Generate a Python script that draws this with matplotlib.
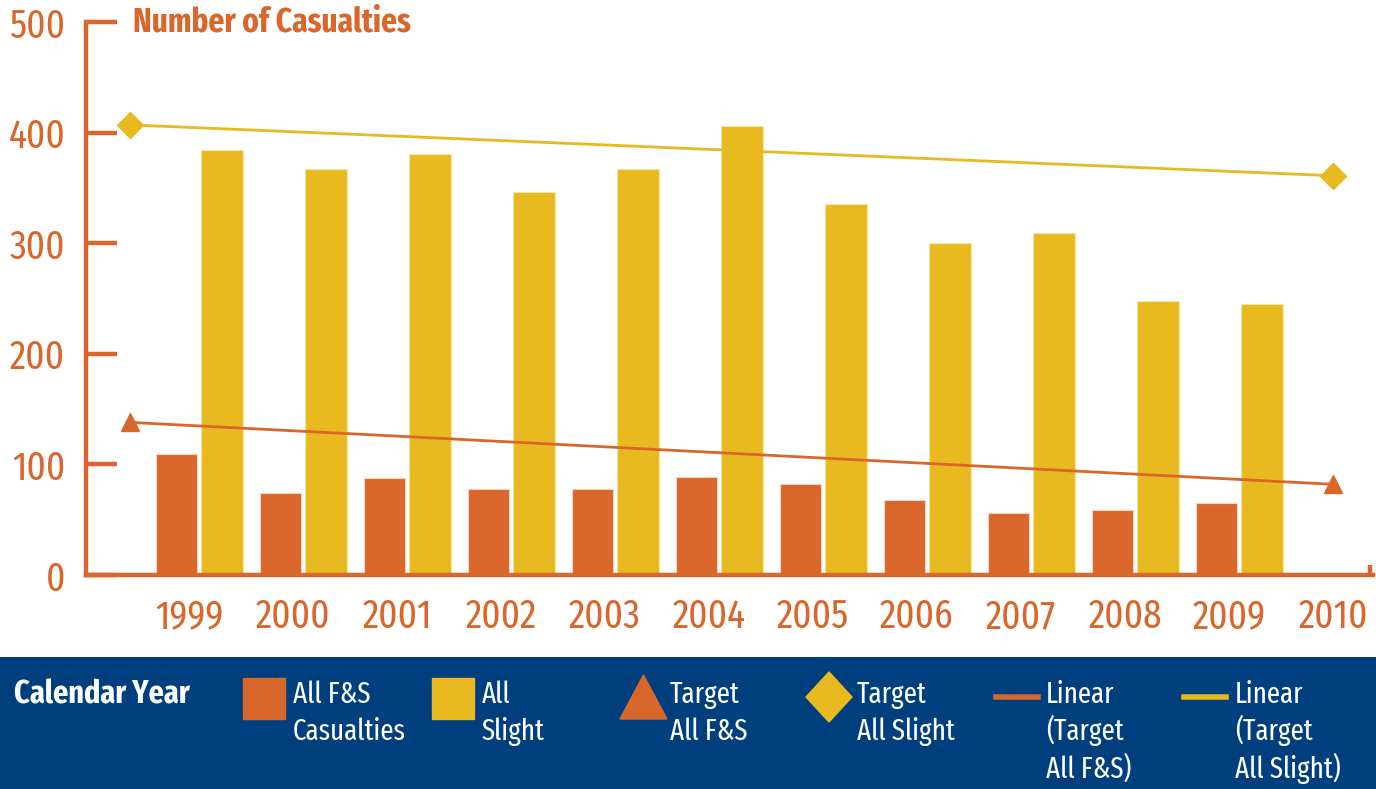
import matplotlib
matplotlib.use('Agg')
import matplotlib.pyplot as plt
from matplotlib.patches import Rectangle, Polygon
from matplotlib.lines import Line2D

ORANGE = '#D9662A'
YELLOW = '#E9B920'
BLUE = '#003F7D'

plt.rcParams['font.family'] = ['Fira Sans Extra Condensed', 'DejaVu Sans']

years = ['1999', '2000', '2001', '2002', '2003', '2004',
         '2005', '2006', '2007', '2008', '2009', '2010']
fs_casualties = [109, 74, 88, 78, 78, 89, 82, 68, 56, 59, 65]
slight = [384, 367, 381, 346, 367, 406, 335, 300, 309, 248, 245]
target_pos = [-0.57, 11.0]
target_fs = [138, 82]
target_slight = [407, 361]

fig = plt.figure(figsize=(13.76, 7.89), dpi=100)
W, H = 1376, 789
ax = fig.add_axes([86 / W, 1 - 575 / H, (1373 - 86) / W, (575 - 22) / H])

idx = list(range(len(fs_casualties)))
bw = 0.40
ax.bar([i - 0.12 for i in idx], fs_casualties, width=bw, color=ORANGE,
       edgecolor='#F3D6C0', linewidth=0.8, zorder=2)
ax.bar([i + 0.315 for i in idx], slight, width=bw, color=YELLOW,
       edgecolor='#F6E6B0', linewidth=0.8, zorder=2)

# targets and their linear trends
ax.plot(target_pos, target_fs, color=ORANGE, lw=2.0, zorder=3)
ax.plot(target_pos, target_slight, color=YELLOW, lw=2.0, zorder=3)
ax.plot(target_pos, target_fs, ls='none', marker='^', ms=13,
        color=ORANGE, zorder=4)
ax.plot(target_pos, target_slight, ls='none', marker='D', ms=13,
        color=YELLOW, zorder=4)

ax.set_xlim(-0.99, 11.385)
ax.set_ylim(0, 500)
ax.set_yticks([0, 100, 200, 300, 400, 500])
ax.set_xticks(range(len(years)))
ax.set_xticklabels(years)
ax.set_xticks([11.36], minor=True)

for s in ['top', 'right']:
    ax.spines[s].set_visible(False)
for s in ['left', 'bottom']:
    ax.spines[s].set_color(ORANGE)
    ax.spines[s].set_linewidth(3.2)

ax.tick_params(axis='y', direction='in', length=22, width=3.2,
               color=ORANGE, labelcolor=ORANGE, labelsize=29, pad=15)
ax.tick_params(axis='x', which='major', length=0, labelcolor=ORANGE,
               labelsize=29, pad=16)
ax.tick_params(axis='x', which='minor', direction='in', length=7,
               width=3.2, color=ORANGE)

fig.text(133 / W, 1 - 32 / H, 'Number of Casualties', color=ORANGE,
         fontsize=24.5, fontweight='bold', va='baseline', ha='left')

# legend panel
lax = fig.add_axes([0, 0, 1, 132 / H])
lax.set_xlim(0, W)
lax.set_ylim(H, H - 132)
lax.set_facecolor(BLUE)
for s in lax.spines.values():
    s.set_visible(False)
lax.set_xticks([])
lax.set_yticks([])


def legend_label(x, label):
    for k, line in enumerate(label.split('\n')):
        lax.text(x, 703 + 37.5 * k, line, color='white', fontsize=21,
                 va='baseline', ha='left')


lax.text(14, 703, 'Calendar Year', color='white', fontsize=23.5,
         fontweight='bold', va='baseline', ha='left')

lax.add_patch(Rectangle((243, 678), 42, 41, color=ORANGE))
legend_label(293, 'All F&S\nCasualties')
lax.add_patch(Rectangle((432, 678), 42, 41, color=YELLOW))
legend_label(482, 'All\nSlight')
lax.add_patch(Polygon([(620, 719), (667, 719), (643.5, 675)], color=ORANGE))
legend_label(670, 'Target\nAll F&S')
lax.add_patch(Polygon([(806, 697), (829, 672), (852, 697), (829, 722)],
                      color=YELLOW))
legend_label(857, 'Target\nAll Slight')
lax.add_line(Line2D([996, 1038], [697, 697], color=ORANGE, lw=4))
legend_label(1046, 'Linear\n(Target\nAll F&S)')
lax.add_line(Line2D([1184, 1226], [697, 697], color=YELLOW, lw=4))
legend_label(1235, 'Linear\n(Target\nAll Slight)')

fig.savefig('out.png', dpi=100)
